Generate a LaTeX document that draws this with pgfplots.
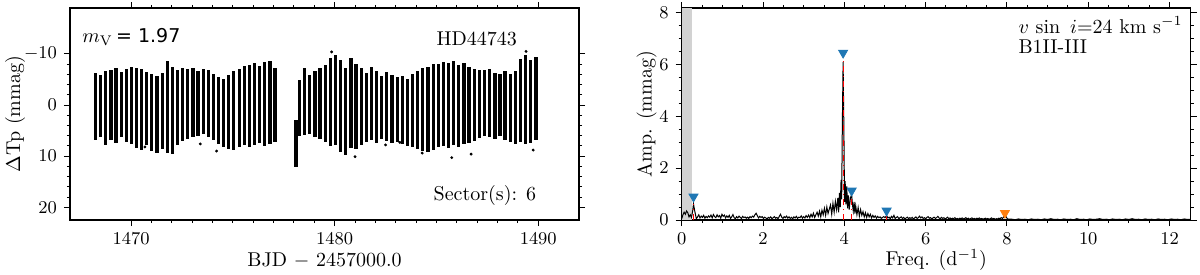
\documentclass[border=0pt]{standalone}
\usepackage{fontspec}
\usepackage{pgfplots}
\pgfplotsset{compat=1.18}
\usepackage{pgfplotstable}
\newfontfamily\dejavu{DejaVu Sans}
\definecolor{tabblue}{HTML}{1F77B4}
\definecolor{taborange}{HTML}{FF7F0E}

% light curve: one row per pulsation cycle, extremes of the band (mmag)
\pgfplotstableread{
t lo hi
1468.25 -6.3 6.8
1468.50 -5.9 6.3
1468.75 -6.6 7.8
1469.01 -6.8 6.9
1469.26 -7.2 7.4
1469.51 -6.4 6.2
1469.76 -7.0 7.3
1470.01 -7.4 7.6
1470.27 -7.3 8.4
1470.52 -7.0 8.8
1470.77 -6.5 7.9
1471.02 -6.0 9.0
1471.27 -5.6 9.4
1471.53 -6.2 8.6
1471.78 -8.6 9.3
1472.03 -7.4 9.5
1472.28 -6.9 7.9
1472.53 -7.3 7.0
1472.79 -7.0 6.6
1473.04 -7.3 6.3
1473.29 -6.6 6.0
1473.54 -7.1 5.7
1473.79 -6.8 6.3
1474.05 -6.0 6.9
1474.30 -5.5 7.6
1474.55 -5.2 8.2
1474.80 -5.9 8.6
1475.05 -6.6 8.7
1475.31 -7.0 8.2
1475.56 -7.6 7.8
1475.81 -7.9 8.3
1476.06 -8.2 7.9
1476.31 -7.7 7.5
1476.57 -8.5 8.0
1476.82 -8.7 7.6
1477.07 -7.2 7.3
1478.10 3.0 12.2
1478.28 -5.0 6.0
1478.53 -7.2 5.9
1478.78 -5.9 5.6
1479.03 -6.6 6.2
1479.28 -7.3 6.6
1479.54 -7.8 7.2
1479.79 -9.2 8.0
1480.04 -9.8 7.8
1480.29 -8.8 9.1
1480.55 -7.2 9.8
1480.80 -9.3 8.5
1481.05 -8.0 8.6
1481.30 -7.3 7.8
1481.55 -6.3 7.2
1481.81 -7.5 6.9
1482.06 -6.6 7.5
1482.31 -5.7 6.6
1482.56 -6.4 7.0
1482.82 -5.8 7.4
1483.07 -5.4 7.2
1483.32 -5.6 7.7
1483.57 -5.2 8.0
1483.83 -6.0 8.3
1484.08 -6.6 8.6
1484.33 -7.2 8.9
1484.58 -7.4 9.1
1484.84 -8.0 8.8
1485.09 -8.0 8.2
1485.34 -8.4 8.0
1485.59 -8.2 8.4
1485.85 -8.6 7.9
1486.10 -7.9 8.3
1486.35 -8.3 7.7
1486.60 -7.5 7.4
1486.86 -7.1 7.0
1487.11 -6.9 6.5
1487.36 -6.8 6.0
1487.61 -7.0 6.3
1487.87 -6.2 6.6
1488.12 -6.0 6.1
1488.37 -6.6 6.9
1488.62 -6.1 7.3
1488.88 -6.7 7.6
1489.13 -9.0 7.2
1489.38 -9.8 7.7
1489.63 -8.8 7.4
1489.89 -9.5 6.8
}\lcurve

% stray points outside the band
\pgfplotstableread{
t m
1470.68 8.2
1473.40 7.6
1474.20 9.0
1479.85 -10.4
1481.00 10.1
1482.50 7.8
1483.20 7.3
1484.30 9.4
1485.75 10.3
1486.70 9.6
1489.40 -10.5
1489.75 8.8
}\outl

% amplitude spectrum (d^-1, mmag)
\pgfplotstableread{
f a
0.00 0.05
0.03 0.20
0.06 0.30
0.09 0.22
0.12 0.35
0.15 0.28
0.18 0.12
0.21 0.20
0.24 0.10
0.27 0.35
0.29 0.62
0.32 0.35
0.36 0.05
0.39 0.12
0.42 0.20
0.45 0.08
0.48 0.15
0.51 0.10
0.54 0.18
0.57 0.07
0.60 0.14
0.63 0.09
0.66 0.16
0.69 0.11
0.72 0.19
0.75 0.08
0.78 0.21
0.81 0.13
0.84 0.09
0.87 0.20
0.90 0.12
0.93 0.17
0.96 0.07
0.99 0.22
1.02 0.14
1.05 0.19
1.08 0.08
1.11 0.16
1.14 0.10
1.17 0.18
1.20 0.06
1.23 0.12
1.26 0.21
1.29 0.09
1.32 0.05
1.35 0.13
1.38 0.08
1.41 0.15
1.44 0.10
1.47 0.06
1.50 0.14
1.53 0.09
1.56 0.12
1.59 0.07
1.62 0.11
1.65 0.06
1.68 0.13
1.71 0.09
1.74 0.15
1.77 0.11
1.80 0.20
1.83 0.26
1.86 0.17
1.89 0.08
1.92 0.14
1.95 0.10
1.98 0.13
2.01 0.06
2.04 0.11
2.07 0.08
2.10 0.04
2.13 0.10
2.16 0.07
2.19 0.12
2.22 0.05
2.25 0.09
2.28 0.13
2.31 0.07
2.34 0.10
2.37 0.05
2.40 0.14
2.43 0.22
2.46 0.11
2.49 0.06
2.52 0.13
2.55 0.09
2.58 0.15
2.61 0.07
2.64 0.12
2.67 0.06
2.70 0.10
2.73 0.05
2.76 0.12
2.79 0.08
2.82 0.14
2.85 0.06
2.88 0.11
2.91 0.09
2.94 0.16
2.97 0.07
3.00 0.13
3.03 0.08
3.06 0.17
3.09 0.10
3.12 0.19
3.15 0.09
3.18 0.22
3.21 0.12
3.24 0.26
3.27 0.10
3.30 0.20
3.33 0.30
3.36 0.15
3.39 0.34
3.42 0.12
3.45 0.38
3.48 0.20
3.51 0.45
3.54 0.18
3.57 0.50
3.60 0.25
3.63 0.42
3.66 0.58
3.69 0.22
3.72 0.65
3.75 0.30
3.78 0.72
3.81 0.40
3.84 0.85
3.86 0.30
3.88 1.05
3.90 0.50
3.92 1.55
3.935 0.80
3.95 3.50
3.97 6.10
3.99 3.40
4.005 0.70
4.02 1.50
4.04 0.60
4.06 1.30
4.08 0.45
4.10 0.95
4.12 0.40
4.15 0.85
4.18 0.98
4.20 0.60
4.22 0.35
4.24 0.70
4.26 0.25
4.28 0.55
4.31 0.20
4.34 0.48
4.37 0.15
4.40 0.40
4.43 0.18
4.46 0.32
4.49 0.12
4.52 0.28
4.55 0.10
4.58 0.25
4.61 0.12
4.64 0.22
4.67 0.08
4.70 0.18
4.73 0.10
4.76 0.16
4.79 0.07
4.82 0.14
4.85 0.09
4.88 0.12
4.91 0.06
4.94 0.10
4.97 0.13
5.00 0.09
5.04 0.17
5.07 0.08
5.10 0.11
5.13 0.05
5.16 0.14
5.19 0.08
5.22 0.18
5.25 0.06
5.28 0.10
5.31 0.13
5.34 0.05
5.37 0.09
5.40 0.12
5.43 0.06
5.46 0.10
5.49 0.04
5.52 0.08
5.55 0.11
5.58 0.05
5.61 0.09
5.64 0.06
5.67 0.10
5.70 0.04
5.73 0.08
5.76 0.12
5.79 0.06
5.82 0.09
5.85 0.15
5.88 0.08
5.91 0.12
5.94 0.06
5.97 0.09
6.00 0.05
6.03 0.10
6.06 0.13
6.09 0.07
6.12 0.09
6.15 0.04
6.18 0.08
6.21 0.11
6.24 0.06
6.27 0.09
6.30 0.14
6.33 0.08
6.36 0.05
6.39 0.10
6.42 0.06
6.45 0.09
6.48 0.04
6.51 0.07
6.54 0.11
6.57 0.05
6.60 0.08
6.63 0.04
6.66 0.07
6.69 0.05
6.72 0.09
6.75 0.04
6.78 0.06
6.81 0.03
6.84 0.07
6.87 0.05
6.90 0.08
6.93 0.04
6.96 0.06
6.99 0.09
7.02 0.04
7.05 0.07
7.08 0.03
7.11 0.06
7.14 0.08
7.17 0.04
7.20 0.06
7.23 0.03
7.26 0.07
7.29 0.05
7.32 0.08
7.35 0.04
7.38 0.06
7.41 0.03
7.44 0.05
7.47 0.07
7.50 0.04
7.53 0.06
7.56 0.03
7.59 0.05
7.62 0.08
7.65 0.04
7.68 0.06
7.71 0.03
7.74 0.05
7.77 0.04
7.80 0.07
7.83 0.05
7.86 0.09
7.89 0.06
7.92 0.12
7.95 0.22
7.98 0.12
8.01 0.05
8.04 0.03
8.12 0.03
8.20 0.01
8.28 0.04
8.36 0.02
8.44 0.03
8.52 0.01
8.60 0.04
8.68 0.02
8.76 0.03
8.84 0.01
8.92 0.04
9.00 0.02
9.08 0.05
9.16 0.02
9.24 0.03
9.32 0.01
9.40 0.04
9.48 0.02
9.56 0.03
9.64 0.01
9.72 0.05
9.80 0.02
9.88 0.03
9.96 0.01
10.04 0.04
10.12 0.02
10.20 0.03
10.28 0.05
10.36 0.02
10.44 0.03
10.52 0.01
10.60 0.04
10.68 0.02
10.76 0.03
10.84 0.01
10.92 0.04
11.00 0.02
11.08 0.05
11.16 0.02
11.24 0.03
11.32 0.01
11.40 0.04
11.48 0.02
11.56 0.03
11.64 0.01
11.72 0.04
11.80 0.02
11.88 0.03
11.96 0.01
12.04 0.04
12.12 0.02
12.20 0.03
12.28 0.01
12.36 0.04
12.44 0.02
12.52 0.03
}\ampspec

\pgfplotsset{
  panel/.style={
    scale only axis,
    width=254.5pt, height=106pt,
    axis line style={line width=0.6pt},
    tick pos=both, tick align=outside,
    major tick length=3pt, minor tick length=1.6pt,
    every tick/.style={black, line width=0.5pt},
    tick label style={font=\fontsize{9}{10}\selectfont},
    label style={font=\fontsize{10}{12}\selectfont},
    /pgf/number format/1000 sep={},
    scaled ticks=false,
  },
}
\tikzset{note/.style={inner sep=0pt, font=\fontsize{10}{12}\selectfont}}

\begin{document}
\begin{tikzpicture}
\path[use as bounding box] (0,0) rectangle (600pt,137pt);

% left: light curve
\begin{axis}[panel,
  at={(35pt,27pt)}, anchor=south west,
  xmin=1467, xmax=1492, ymin=-19, ymax=22.5, y dir=reverse,
  xtick={1470,1480,1490}, minor x tick num=9,
  ytick={-10,0,10,20}, minor y tick num=4,
  xlabel={BJD $-$ 2457000.0},
  ylabel={$\Delta$Tp (mmag)},
  xlabel style={at={(axis description cs:0.5,-0.19)}, anchor=center},
  ylabel style={at={(axis description cs:-0.108,0.5)}, anchor=center},
]
\addplot[draw=none, mark=none,
  error bars/.cd, y dir=both, y explicit, error mark=none,
  error bar style={draw=black, solid, line width=1.6pt}]
  table[x=t, y expr={0.5*(\thisrow{lo}+\thisrow{hi})},
        y error expr={0.5*(\thisrow{hi}-\thisrow{lo})}] {\lcurve};
\addplot[only marks, mark=*, mark size=0.5pt, black] table[x=t, y=m] {\outl};
\node[note, anchor=base west] at (rel axis cs:0.0236,0.838)
  {$m_{\mathrm{V}}$\,{\dejavu\fontsize{9.5}{11}\selectfont = 1.97}};
\node[note, anchor=base] at (rel axis cs:0.799,0.825) {HD44743};
\node[note, anchor=base] at (rel axis cs:0.815,0.094) {Sector(s): 6};
\end{axis}

% right: amplitude spectrum
\begin{axis}[panel,
  at={(340.85pt,27pt)}, anchor=south west,
  xmin=0, xmax=12.52, ymin=0, ymax=8.18,
  xtick={0,2,...,12}, minor x tick num=3,
  ytick={0,2,4,6,8}, minor y tick num=3,
  xlabel={Freq. (d$^{-1}$)},
  ylabel={Amp. (mmag)},
  xlabel style={at={(axis description cs:0.5,-0.19)}, anchor=center},
  ylabel style={at={(axis description cs:-0.069,0.5)}, anchor=center},
]
\addplot[draw=none, fill=gray!35] coordinates {(0,0) (0,8.18) (0.245,8.18) (0.245,0)} -- cycle;
\addplot[black, line width=0.5pt] table[x=f, y=a] {\ampspec};
\addplot[red, dash dot, line width=0.6pt] coordinates {(0.29,0) (0.29,0.62)};
\addplot[red, dash dot, line width=0.6pt] coordinates {(3.97,0) (3.97,6.25)};
\addplot[red, dash dot, line width=0.6pt] coordinates {(4.18,0) (4.18,0.98)};
\addplot[red, dash dot, line width=0.6pt] coordinates {(5.04,0) (5.04,0.17)};
\addplot[only marks, mark=triangle*, mark size=2.6pt,
  mark options={rotate=180, fill=tabblue, draw=tabblue}]
  coordinates {(0.29,0.90) (3.97,6.45) (4.18,1.13) (5.04,0.36)};
\addplot[only marks, mark=triangle*, mark size=2.6pt,
  mark options={rotate=180, fill=taborange, draw=taborange}]
  coordinates {(7.95,0.27)};
\node[note, anchor=base west] at (rel axis cs:0.661,0.881)
  {$v\,\sin\ i$=24 km s$^{-1}$};
\node[note, anchor=base west] at (rel axis cs:0.661,0.786)
  {B1II-III};
\end{axis}
\end{tikzpicture}
\end{document}
